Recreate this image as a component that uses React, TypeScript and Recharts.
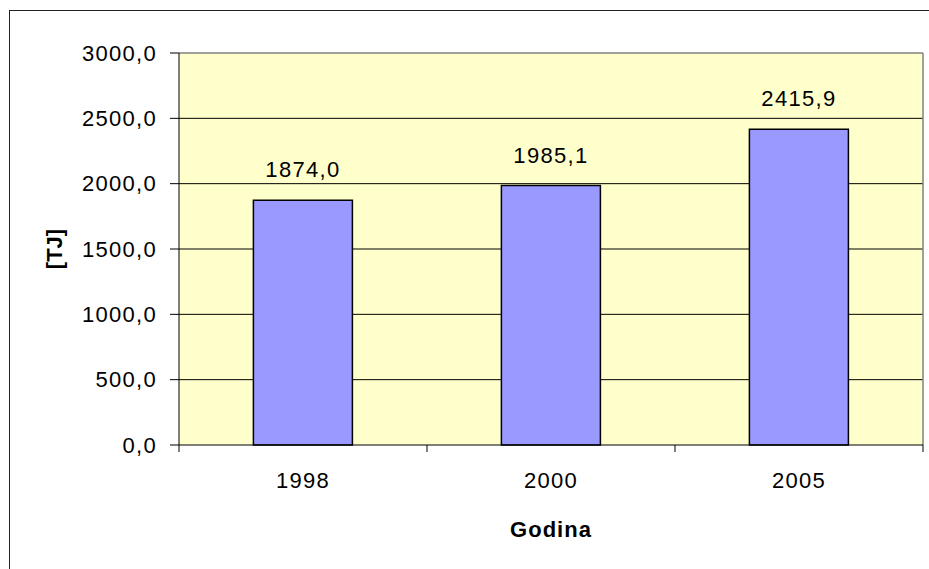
import { BarChart, Bar, XAxis, YAxis, CartesianGrid, LabelList, ReferenceLine } from 'recharts';

const years = ['1998', '2000', '2005'];
const values = [1874.0, 1985.1, 2415.9];
const yTicks = [0, 500, 1000, 1500, 2000, 2500, 3000];
const boundaryTicks = [0, 1, 2, 3];

const data = years.map((year, i) => ({ year, value: values[i], edge: i + 0.5 }));

const font = '"Liberation Sans", Arial, sans-serif';
const fmt = (v: number) => v.toFixed(1).replace('.', ',');

export default function App() {
  return (
    <div
      style={{
        position: 'fixed',
        left: 0,
        top: 0,
        width: 929,
        height: 569,
        overflow: 'hidden',
        background: '#fff',
        fontFamily: font,
      }}
    >
      <div
        style={{
          position: 'absolute',
          left: 9,
          top: 10,
          width: 1000,
          height: 1000,
          border: '1px solid #222',
        }}
      />
      <div style={{ position: 'absolute', left: 0, top: 0 }}>
        <BarChart
          width={929}
          height={569}
          data={data}
          margin={{ top: 53, right: 6, bottom: 0, left: 0 }}
          barCategoryGap="30%"
        >
          <CartesianGrid
            xAxisId="cat"
            vertical={false}
            horizontalValues={[500, 1000, 1500, 2000, 2500]}
            stroke="#000"
            strokeWidth={1}
            fill="#FFFFCC"
            fillOpacity={1}
          />
          <XAxis
            xAxisId="cat"
            dataKey="year"
            height={123}
            axisLine={false}
            tickLine={false}
            tickSize={0}
            tickMargin={26}
            tick={{ fill: '#000', fontSize: 22, fontFamily: font, letterSpacing: 1.3 }}
            label={{
              value: 'Godina',
              position: 'insideBottom',
              offset: 32,
              style: { fill: '#000', fontSize: 22, fontWeight: 'bold', fontFamily: font, letterSpacing: 1 },
            }}
          />
          <XAxis
            xAxisId="a"
            dataKey="edge"
            type="number"
            domain={[0, 3]}
            ticks={boundaryTicks}
            interval={0}
            allowDataOverflow
            height={1}
            tickSize={7}
            tickFormatter={() => ' '}
            tick={{ fontSize: 1 }}
            axisLine={{ stroke: '#000' }}
            tickLine={{ stroke: '#000' }}
          />
          <YAxis
            width={179}
            domain={[0, 3000]}
            ticks={yTicks}
            tickFormatter={fmt}
            tickSize={9}
            tickMargin={13}
            axisLine={{ stroke: '#000' }}
            tickLine={{ stroke: '#000' }}
            tick={{ fill: '#000', fontSize: 22, fontFamily: font, letterSpacing: 1.3 }}
            label={{
              value: '[TJ]',
              angle: -90,
              position: 'insideLeft',
              offset: 54,
              style: { textAnchor: 'middle', fill: '#000', fontSize: 22, fontWeight: 'bold', fontFamily: font },
            }}
          />
          <ReferenceLine y={3000} xAxisId="cat" stroke="#808080" strokeWidth={1.5} />
          <ReferenceLine x={3} xAxisId="a" stroke="#808080" strokeWidth={1.5} />
          <Bar
            dataKey="value"
            xAxisId="cat"
            fill="#9999FF"
            stroke="#000"
            strokeWidth={1.5}
            isAnimationActive={false}
          >
            <LabelList
              dataKey="value"
              position="top"
              offset={23}
              formatter={(v: number) => fmt(v)}
              style={{ fill: '#000', fontSize: 22, fontFamily: font, letterSpacing: 1.3 }}
            />
          </Bar>
        </BarChart>
      </div>
    </div>
  );
}
